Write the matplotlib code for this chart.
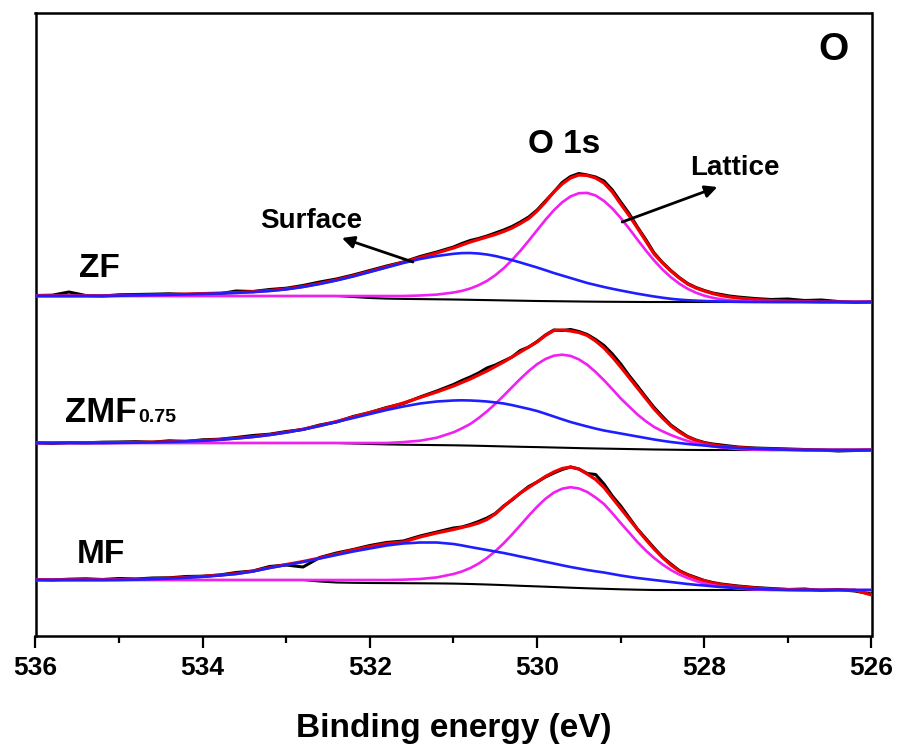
import numpy as np
import matplotlib
matplotlib.use('Agg')
from matplotlib import pyplot as plt

# binding energy grid (eV), finer across the peaks
energy = [536.0, 535.8, 535.6, 535.4, 535.2, 535.0, 534.8, 534.6, 534.4, 534.2,
          534.0, 533.8, 533.6, 533.4, 533.2, 533.0, 532.8, 532.6, 532.4, 532.2,
          532.0, 531.8, 531.6, 531.4, 531.2,
          531.0, 530.9, 530.8, 530.7, 530.6, 530.5, 530.4, 530.3, 530.2, 530.1,
          530.0, 529.9, 529.8, 529.7, 529.6, 529.5, 529.4, 529.3, 529.2, 529.1,
          529.0, 528.9, 528.8, 528.7, 528.6, 528.5, 528.4, 528.3, 528.2, 528.1,
          528.0, 527.9, 527.8, 527.7, 527.6,
          527.4, 527.2, 527.0, 526.8, 526.6, 526.4, 526.2, 526.0]

# ZF
zf_raw = [0.5, 0.8, 4.0, 0.5, 0.0, 1.2, 1.5, 1.8, 2.2, 1.6,
          2.0, 2.2, 5.0, 4.5, 6.5, 7.8, 10.5, 14.0, 17.0, 21.0,
          25.5, 30.0, 34.0, 39.5, 44.0,
          49.0, 52.5, 55.5, 57.5, 60.0, 63.0, 66.0, 69.5, 74.0, 79.0,
          86.0, 95.0, 104.0, 113.5, 119.5, 122.5, 121.0, 119.0, 115.0, 106.0,
          94.0, 82.5, 69.0, 56.5, 43.0, 33.5, 25.5, 18.5, 12.5, 8.5,
          5.5, 3.0, 1.5, 0.0, -1.0,
          -2.5, -3.5, -3.0, -4.5, -4.0, -5.5, -6.5, -6.0]
zf_fit = [0.2, 0.2, 0.2, 0.2, 0.2, 0.5, 0.8, 1.1, 1.5, 1.9,
          2.4, 2.9, 3.5, 4.3, 5.5, 7.1, 9.5, 12.6, 16.1, 20.2,
          24.6, 29.2, 33.8, 38.5, 43,
          48, 51, 54, 56.5, 59, 61.5, 64.5, 68, 72.5, 77.5,
          85, 94, 104, 112, 118, 121, 120.5, 118, 113, 104,
          92, 80.5, 68, 55, 42, 33, 25, 18, 12, 8,
          5, 2.5, 0.5, -0.9, -2,
          -3.5, -4.5, -5, -5.5, -6, -6, -6, -6]
zf_surface = [0, 0, 0, 0, 0, 0.3, 0.6, 0.9, 1.2, 1.6,
              2.0, 2.5, 3.1, 3.9, 5.0, 6.6, 9.0, 12.0, 15.5, 19.5,
              24.0, 28.5, 33.0, 37.0, 40.0,
              42.2, 42.9, 43.0, 42.5, 41.5, 40.0, 38.0, 35.9, 33.5, 31.0,
              28.5, 25.8, 23.0, 20.5, 18.0, 15.5, 13.0, 11.0, 9.0, 7.2,
              5.5, 3.9, 2.3, 0.9, -0.5, -1.7, -2.8, -3.6, -4.2, -4.65,
              -5.0, -5.3, -5.5, -5.65, -5.8,
              -6, -6, -6, -6, -6, -6, -6, -6]
zf_lattice = [0, 0, 0, 0, 0, 0, 0, 0, 0, 0,
              0, 0, 0, 0, 0, 0, 0, 0, 0, 0,
              0, 0, 0, 0.5, 1.4,
              3.5, 5.1, 7.5, 10.8, 15.1, 20.8, 27.7, 36.0, 45.2, 55.3,
              65.8, 76.2, 85.7, 93.7, 99.6, 102.8, 103.1, 100.5, 95.1, 87.5,
              78.1, 67.5, 56.4, 45.6, 35.5, 26.5, 18.8, 12.4, 7.2, 3.3,
              0.3, -1.8, -3.3, -4.3, -5.0,
              -5.6, -5.9, -6, -6, -6, -6, -6, -6]
zf_bg = [0, 0, 0, 0, 0, 0, 0, 0, 0, 0,
         0, 0, 0, 0, 0, 0, 0, 0, 0, -1.0,
         -2.0, -2.6, -2.9, -3.1, -3.3,
         -3.5, -3.65, -3.8, -3.95, -4.1, -4.25, -4.4, -4.55, -4.7, -4.85,
         -5.0, -5.1, -5.2, -5.3, -5.4, -5.5, -5.6, -5.68, -5.75, -5.8,
         -5.85, -5.9, -5.95, -6, -6, -6, -6, -6, -6, -6,
         -6, -6, -6, -6, -6,
         -6, -6, -6, -6, -6, -6, -6, -6]

# ZMF0.75
zmf_raw = [0.3, -0.5, 0.5, 0.2, 0.8, 1.0, 1.3, 0.8, 2.2, 1.5,
           3.2, 3.8, 5.5, 7.5, 8.8, 11.5, 13.5, 18.0, 21.0, 26.5,
           30.5, 35.5, 39.5, 46.0, 52.0,
           58.5, 62.5, 66.0, 70.0, 75.0, 78.0, 82.0, 86.0, 92.5, 96.0,
           101.5, 108.0, 113.0, 112.5, 113.5, 111.5, 108.5, 103.5, 97.5, 89.0,
           79.0, 67.5, 57.0, 46.0, 35.5, 26.5, 18.0, 12.0, 6.5, 3.0,
           0.5, -1.0, -2.0, -3.0, -4.0,
           -5.0, -5.5, -6.0, -6.5, -7.0, -8.0, -7.5, -7.0]
zmf_fit = [0.2, 0.2, 0.2, 0.2, 0.2, 0.4, 0.6, 0.9, 1.3, 1.8,
           2.5, 3.5, 4.8, 6.3, 8.3, 10.8, 13.8, 17.4, 21.5, 26,
           30.5, 35, 40, 45.5, 51,
           57, 60.5, 64, 68, 72, 76.5, 81, 86, 91, 96,
           101, 107.5, 112.5, 113, 112, 110.5, 107.5, 102, 95, 86,
           76, 65.5, 55, 44.5, 34, 25, 17, 11, 6, 2.5,
           0, -1.7, -3, -3.8, -4.5,
           -5.5, -6, -6.5, -7, -7, -7, -7, -7]
zmf_surface = [0, 0, 0, 0, 0, 0.2, 0.3, 0.6, 1.0, 1.5,
               2.2, 3.2, 4.5, 6.0, 8.0, 10.5, 13.5, 17, 21, 25,
               29, 33, 36.5, 39.5, 41.5,
               42.5, 42.7, 42.5, 42.1, 41.5, 40.6, 39.5, 37.9, 36, 34.1,
               32, 29.3, 26.5, 23.7, 21, 18.7, 16.5, 14.4, 12.5, 11.0,
               9.5, 8.0, 6.5, 5.0, 3.5, 2.2, 1, 0, -1, -1.8,
               -2.5, -3.3, -4, -4.5, -5,
               -5.8, -6.3, -6.7, -7, -7, -7, -7, -7]
zmf_lattice = [0, 0, 0, 0, 0, 0, 0, 0, 0, 0,
               0, 0, 0, 0, 0, 0, 0, 0, 0, 0,
               0, 0, 0.9, 2.3, 5.3,
               10.7, 14.6, 19.0, 24.9, 31.6, 39.1, 47.3, 55.8, 64.2, 72.0,
               78.8, 84.0, 87.3, 88.3, 87.1, 83.6, 78.2, 71.0, 62.8, 53.8,
               44.6, 36.5, 28.5, 21.8, 16, 11.7, 8, 4.8, 2, 0,
               -2, -3.3, -4.5, -5.3, -6,
               -6.7, -7, -7, -7, -7, -7, -7, -7]
zmf_bg = [0, 0, 0, 0, 0, 0, 0, 0, 0, 0,
          0, 0, 0, 0, 0, 0, 0, 0, 0, -0.5,
          -1.0, -1.4, -1.7, -1.9, -2.1,
          -2.3, -2.45, -2.6, -2.8, -3.0, -3.2, -3.4, -3.6, -3.8, -3.95,
          -4.1, -4.3, -4.5, -4.7, -4.9, -5.1, -5.3, -5.45, -5.6, -5.75,
          -5.9, -6.05, -6.2, -6.35, -6.5, -6.6, -6.7, -6.8, -6.9, -6.95,
          -7, -7, -7, -7, -7,
          -7, -7, -7, -7, -7, -7, -7, -7]

# MF
mf_raw = [0.5, 0.0, 0.8, 1.2, 0.5, 1.5, 1.0, 2.0, 2.2, 3.5,
          3.8, 5.0, 7.5, 9.0, 13.5, 15.0, 13.0, 22.5, 27.0, 30.5,
          34.5, 37.5, 39.0, 44.0, 48.0,
          52.0, 53.0, 55.5, 58.5, 62.0, 66.5, 74.0, 80.0, 87.0, 93.5,
          98.0, 103.0, 107.0, 110.5, 113.0, 111.0, 106.5, 105.5, 96.0, 84.0,
          74.0, 62.5, 51.0, 41.5, 32.0, 23.0, 16.0, 9.5, 5.5, 2.5,
          -0.5, -2.5, -4.0, -5.0, -6.0,
          -7.5, -8.5, -9.5, -9.0, -10.5, -9.5, -11.0, -14.0]
mf_fit = [0.2, 0.2, 0.2, 0.2, 0.2, 0.4, 0.7, 1.2, 1.8, 2.6,
          3.6, 4.9, 6.4, 8.9, 12.4, 15.5, 18.5, 22, 26, 30,
          33.5, 36.5, 38, 43, 47,
          50.5, 52.5, 54.5, 57, 60.5, 66, 73.5, 80.5, 87, 92.5,
          98, 103.5, 108, 111.5, 113, 111, 106, 100.5, 92.5, 82,
          71.5, 61, 50.5, 40.5, 31, 22.5, 15, 9, 5, 1.8,
          -0.8, -3, -4.5, -5.6, -6.5,
          -8, -9, -9.5, -10, -10, -10, -10, -15]
mf_surface = [0, 0, 0, 0, 0, 0.1, 0.3, 0.8, 1.4, 2.2,
              3.2, 4.5, 6.0, 8.5, 12, 15, 18, 21.5, 25, 28.5,
              31.5, 34.5, 36.5, 37.5, 37.5,
              36, 34.6, 33, 31.5, 30, 28.5, 27, 25.3, 23.5, 21.8,
              20, 18.2, 16.5, 14.7, 13, 11.5, 10, 8.7, 7.5, 6.0,
              4.5, 3.2, 2, 1.0, 0, -1.0, -2, -3.0, -4, -4.8,
              -5.5, -6.3, -7, -7.5, -8,
              -9, -9.5, -10, -10, -10, -10, -10, -10]
mf_lattice = [0, 0, 0, 0, 0, 0, 0, 0, 0, 0,
              0, 0, 0, 0, 0, 0, 0, 0, 0, 0,
              0, 0, 0.3, 1.0, 2.6,
              6.0, 8.5, 11.9, 16.4, 22, 28.8, 36.7, 45.5, 54.8, 64.3,
              73.3, 81.2, 87.4, 91.3, 92.8, 91.5, 88, 82.5, 76, 66.8,
              57, 47.5, 38, 29.5, 22, 15.5, 10, 5.5, 2, -1,
              -3.5, -5.2, -6.5, -7.6, -8.5,
              -9.5, -10, -10, -10, -10, -10, -10, -10]
mf_bg = [0, 0, 0, 0, 0, 0, 0, 0, 0, 0,
         0, 0, 0, 0, 0, 0, 0, -1.5, -2.5, -2.8,
         -3.0, -3.1, -3.2, -3.3, -3.4,
         -3.6, -3.8, -4.0, -4.25, -4.5, -4.8, -5.1, -5.45, -5.8, -6.1,
         -6.4, -6.7, -7.0, -7.35, -7.7, -8.0, -8.3, -8.55, -8.8, -9.05,
         -9.3, -9.5, -9.7, -9.85, -10, -10, -10, -10, -10, -10,
         -10, -10, -10, -10, -10,
         -10, -10, -10, -10, -10, -10, -10, -10]

# vertical offsets of the stacked spectra (a.u.)
offsets = [340, 193, 56]

spectra = [
    (zf_raw, zf_fit, zf_surface, zf_lattice, zf_bg),
    (zmf_raw, zmf_fit, zmf_surface, zmf_lattice, zmf_bg),
    (mf_raw, mf_fit, mf_surface, mf_lattice, mf_bg),
]

plt.rcParams['font.family'] = ['Liberation Sans', 'DejaVu Sans']
plt.rcParams['font.weight'] = 'bold'

fig = plt.figure(figsize=(9.01, 7.47), dpi=100)
ax = fig.add_axes([35.5 / 901, 111 / 747, 836 / 901, 623 / 747])

x = np.array(energy)
for (raw, fit, surf, latt, bg), off in zip(spectra, offsets):
    ax.plot(x, np.array(bg) + off, color='black', lw=1.5, zorder=2)
    ax.plot(x, np.array(raw) + off, color='black', lw=2.2, zorder=3)
    ax.plot(x, np.array(fit) + off, color='#f20000', lw=2.3, zorder=4)
    ax.plot(x, np.array(latt) + off, color='#f020f0', lw=1.9, zorder=5)
    ax.plot(x, np.array(surf) + off, color='#1e1eff', lw=1.9, zorder=6)

ax.set_xlim(536, 526)
ax.set_ylim(0, 623)
ax.set_xticks([536, 534, 532, 530, 528, 526])
ax.set_xticks([535, 533, 531, 529, 527], minor=True)
ax.set_yticks([])
ax.tick_params(axis='x', which='major', direction='out', length=8.5, width=1.6,
               pad=6, labelsize=19)
ax.tick_params(axis='x', which='minor', direction='out', length=5, width=1.6)
for sp in ax.spines.values():
    sp.set_linewidth(1.8)
ax.set_xlabel('Binding energy (eV)', fontsize=24, fontweight='bold', labelpad=24)

# labels
ax.text(526.635, 576, 'O', fontsize=28, fontweight='bold', ha='left', va='baseline')
ax.text(530.108, 483, 'O 1s', fontsize=24, fontweight='bold', ha='left', va='baseline')
ax.text(528.168, 461, 'Lattice', fontsize=20, fontweight='bold', ha='left', va='baseline')
ax.text(533.317, 408, 'Surface', fontsize=20, fontweight='bold', ha='left', va='baseline')
ax.text(535.485, 359, 'ZF', fontsize=24, fontweight='bold', ha='left', va='baseline')
ax.text(535.653, 214, 'ZMF', fontsize=25, fontweight='bold', ha='left', va='baseline')
ax.text(534.770, 214, '0.75', fontsize=14, fontweight='bold', ha='left', va='baseline')
ax.text(535.509, 73, 'MF', fontsize=24, fontweight='bold', ha='left', va='baseline')

arrow = dict(arrowstyle='-|>', color='black', lw=2, mutation_scale=18,
             shrinkA=0, shrinkB=0)
ax.annotate('', xy=(532.335, 398), xytext=(531.485, 374), arrowprops=arrow, zorder=7)
ax.annotate('', xy=(527.844, 449), xytext=(528.982, 414), arrowprops=arrow, zorder=7)

plt.savefig('out.png', dpi=100)
plt.close()
